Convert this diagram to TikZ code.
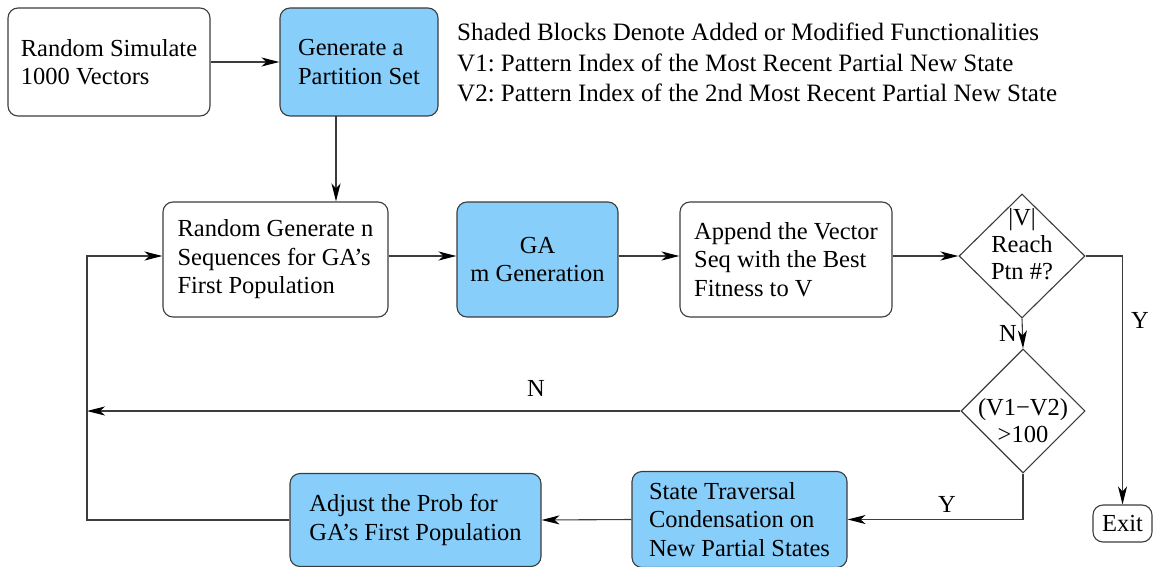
\documentclass[tikz,border=0pt]{standalone}
\usepackage{fontspec}
\setmainfont{Liberation Serif}
\usetikzlibrary{shapes.geometric,arrows.meta}
\definecolor{shade}{RGB}{135,206,250}
\definecolor{ink}{RGB}{60,60,60}
\frenchspacing
\tikzset{
  blk/.style={draw=ink, line width=1.1pt, rounded corners=10pt, align=left,
    inner sep=0pt, font=\fontsize{24.5}{28.5}\selectfont},
  shaded/.style={blk, fill=shade},
  dec/.style={draw=ink, line width=1.1pt, diamond, inner sep=0pt},
  lbl/.style={font=\fontsize{24.5}{27}\selectfont, inner sep=0pt, align=center},
  flow/.style={draw=ink, line width=1.1pt, -{Stealth[length=18pt,width=9pt,inset=5pt,black]}},
}
\begin{document}
\begin{tikzpicture}[x=1pt,y=-1pt]
\useasboundingbox (0,0) rectangle (1153,567);

% top row
\node[blk, minimum width=202pt, minimum height=108pt] (sim) at (109,62)
  {Random Simulate\\1000 Vectors};
\node[shaded, minimum width=158pt, minimum height=108pt] (part) at (359,62)
  {Generate a\\Partition Set};
\node[lbl, anchor=west, align=left, font=\fontsize{25}{30.5}\selectfont] (legend) at (457,62.5)
  {Shaded Blocks Denote Added or Modified Functionalities\\
   V1: Pattern Index of the Most Recent Partial New State\\
   V2: Pattern Index of the 2nd Most Recent Partial New State};

% middle row
\node[blk, minimum width=225pt, minimum height=115pt] (rnd) at (275.5,259.5)
  {Random Generate n\\Sequences for GA’s\\First Population};
\node[shaded, minimum width=161pt, minimum height=115pt, align=center] (ga) at (537.5,259.5)
  {GA\\m Generation};
\node[blk, minimum width=212pt, minimum height=115pt] (app) at (786,259.5)
  {Append the Vector\\Seq with the Best\\Fitness to V};
\node[dec, minimum width=126pt, minimum height=124pt] (reach) at (1022,256) {};
\node[lbl] (reachtxt) at (1022,244) {|V|\\Reach\\Ptn \#?};

% decision on the pattern distance
\node[dec, minimum width=124pt, minimum height=124pt] (diff) at (1023,411) {};
\node[lbl] (difftxt) at (1023,421) {(V1−V2)\\>100};

% bottom row
\node[shaded, minimum width=215pt, minimum height=96pt] (stc) at (739.5,519.5)
  {State Traversal\\Condensation on\\New Partial States};
\node[shaded, minimum width=251pt, minimum height=93pt] (adj) at (415.5,520)
  {Adjust the Prob for\\GA’s First Population};
\node[blk, minimum width=59pt, minimum height=37pt, align=center] (exit) at (1122.5,523.5) {Exit};

% connectors
\coordinate (drop) at (336,116);
\coordinate (nend) at (87,411);
\coordinate (lft) at (87,520);

\draw[flow] (sim.east) -- (part.west);
\draw[flow] (drop) -- (drop |- rnd.north);
\draw[flow] (rnd.east |- reach.west) -- (ga.west |- reach.west);
\draw[flow] (ga.east |- reach.west) -- (app.west |- reach.west);
\draw[flow] (app.east |- reach.west) -- (reach.west);
\draw[flow] (reach.east) -| (exit.north);
\draw[flow] (reach.south) -- (diff.north);
\draw[flow] (diff.west) -- (nend);
\draw[flow] (diff.south) |- (stc.east);
\draw[flow] (stc.west) -- (adj.east);
\draw[flow] (adj.west) -- (lft) |- (rnd.west |- reach.west);

% branch labels
\node[lbl] (ylab1) at (1140,320) {Y};
\node[lbl] (nlab1) at (1008,333) {N};
\node[lbl] (nlab2) at (536,388) {N};
\node[lbl] (ylab2) at (947,504) {Y};
\end{tikzpicture}
\end{document}
